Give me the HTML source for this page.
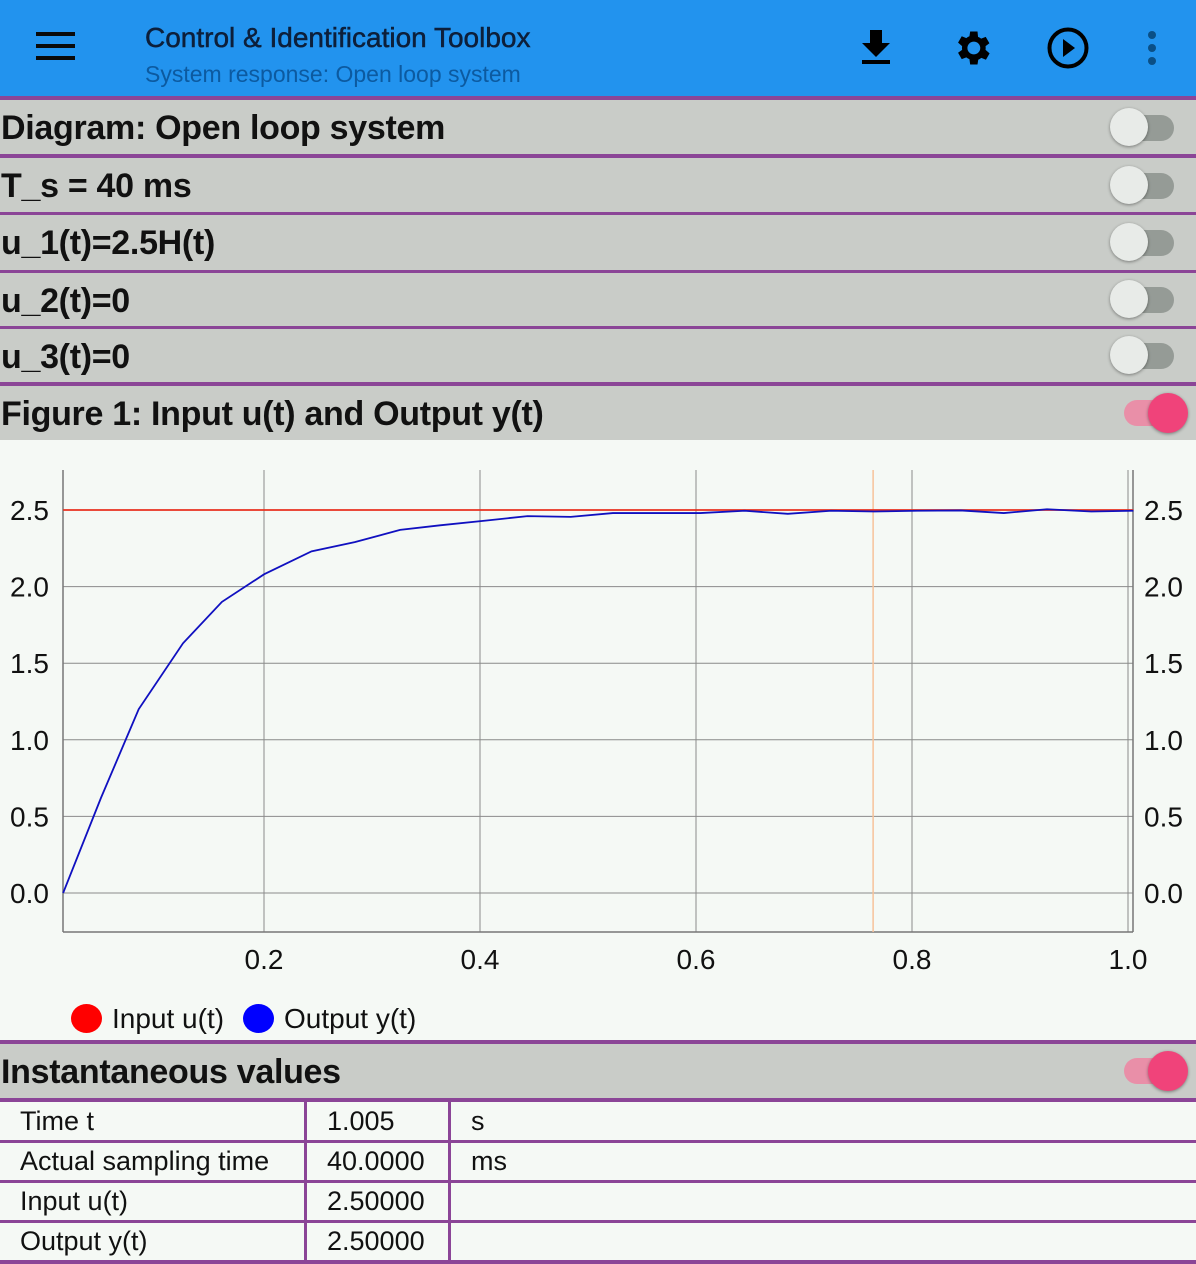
<!DOCTYPE html>
<html><head><meta charset="utf-8">
<style>
*{margin:0;padding:0;box-sizing:border-box}
body{width:1196px;height:1264px;overflow:hidden;background:#f5f9f5;font-family:"Liberation Sans",sans-serif;position:relative}
.abs{position:absolute}
.purple{position:absolute;left:0;width:1196px;background:#8b4597}
.row{position:absolute;left:0;width:1196px;background:#c9ccc8}
.rowtxt{position:absolute;left:1px;font-size:34px;font-weight:bold;color:#111;letter-spacing:-0.3px}
.sw-off{position:absolute;left:1110px;width:64px;height:30px}
.sw-off .tr{position:absolute;left:16px;top:2px;width:48px;height:26px;border-radius:13px;background:#959b96}
.sw-off .th{position:absolute;left:0;top:-5px;width:38px;height:38px;border-radius:19px;background:#e8ebe8;box-shadow:0 1px 3px rgba(0,0,0,.4)}
.sw-on{position:absolute;left:1124px;width:66px;height:30px}
.sw-on .tr{position:absolute;left:0;top:2px;width:50px;height:26px;border-radius:13px;background:#e98fa8}
.sw-on .th{position:absolute;left:24px;top:-5px;width:40px;height:40px;border-radius:20px;background:#f0437a;box-shadow:0 1px 3px rgba(0,0,0,.4)}
.cell{position:absolute;font-size:27px;color:#111}
</style></head><body>
<div class="abs" style="left:0;top:0;width:1196px;height:96px;background:#2293ee">
 <div class="abs" style="left:36px;top:32px;width:40px;height:30px">
  <div class="abs" style="left:0;top:0;width:39px;height:4px;background:#0a0a0a"></div>
  <div class="abs" style="left:0;top:12px;width:39px;height:4px;background:#0a0a0a"></div>
  <div class="abs" style="left:0;top:24px;width:39px;height:4px;background:#0a0a0a"></div>
 </div>
 <div class="abs" style="left:145px;top:22px;font-size:28px;color:#0d1f3a;-webkit-text-stroke:0.5px #0d1f3a">Control &amp; Identification Toolbox</div>
 <div class="abs" style="left:145px;top:61px;font-size:23px;color:#0c5aa0">System response: Open loop system</div>
 <svg class="abs" style="left:860px;top:28px" width="34" height="38"><path d="M10 2h12v13h8L16 29 2 15h8z" fill="#000"/><rect x="2" y="32" width="28" height="4" fill="#000"/></svg>
 <svg class="abs" style="left:950px;top:26px" width="44" height="44" viewBox="0 0 24 24"><path fill="#000" d="M19.4 13a7.5 7.5 0 000-2l2.1-1.6-2-3.5-2.5 1a7 7 0 00-1.7-1L15 3h-4l-.4 2.6a7 7 0 00-1.7 1l-2.5-1-2 3.5L6.6 11a7.5 7.5 0 000 2l-2.2 1.6 2 3.5 2.5-1a7 7 0 001.7 1L11 21h4l.4-2.6a7 7 0 001.7-1l2.5 1 2-3.5zM13 15.5a3.5 3.5 0 110-7 3.5 3.5 0 010 7z"/></svg>
 <svg class="abs" style="left:1046px;top:26px" width="44" height="44"><circle cx="22" cy="22" r="18.5" fill="none" stroke="#000" stroke-width="4"/><path d="M17 13l12 9-12 9z" fill="#000"/></svg>
 <svg class="abs" style="left:1144px;top:30px" width="16" height="36"><circle cx="8" cy="5" r="4" fill="#0a4f86"/><circle cx="8" cy="18" r="4" fill="#0a4f86"/><circle cx="8" cy="31" r="4" fill="#0a4f86"/></svg>
</div>

<div class="purple" style="top:96px;height:4px"></div>
<div class="row" style="top:100px;height:54px"><div class="rowtxt" style="top:9px">Diagram: Open loop system</div><div class="sw-off" style="top:13px"><div class="tr"></div><div class="th"></div></div></div>
<div class="purple" style="top:154px;height:4px"></div>
<div class="row" style="top:158px;height:54px"><div class="rowtxt" style="top:9px">T_s = 40 ms</div><div class="sw-off" style="top:13px"><div class="tr"></div><div class="th"></div></div></div>
<div class="purple" style="top:212px;height:3px"></div>
<div class="row" style="top:215px;height:55px"><div class="rowtxt" style="top:9px">u_1(t)=2.5H(t)</div><div class="sw-off" style="top:13px"><div class="tr"></div><div class="th"></div></div></div>
<div class="purple" style="top:270px;height:3px"></div>
<div class="row" style="top:273px;height:53px"><div class="rowtxt" style="top:9px">u_2(t)=0</div><div class="sw-off" style="top:12px"><div class="tr"></div><div class="th"></div></div></div>
<div class="purple" style="top:326px;height:3px"></div>
<div class="row" style="top:329px;height:53px"><div class="rowtxt" style="top:9px">u_3(t)=0</div><div class="sw-off" style="top:12px"><div class="tr"></div><div class="th"></div></div></div>
<div class="purple" style="top:382px;height:4px"></div>
<div class="row" style="top:386px;height:54px"><div class="rowtxt" style="top:9px">Figure 1: Input u(t) and Output y(t)</div><div class="sw-on" style="top:12px"><div class="tr"></div><div class="th"></div></div></div>

<svg class="abs" id="chart" style="left:0;top:440px" width="1196" height="600"></svg>

<div class="abs" style="left:71px;top:1003px;font-size:28px;color:#111"><span style="display:inline-block;width:31px;height:29px;border-radius:50%;background:#f00;vertical-align:-5px;margin-right:10px"></span>Input u(t)</div>
<div class="abs" style="left:243px;top:1003px;font-size:28px;color:#111"><span style="display:inline-block;width:31px;height:29px;border-radius:50%;background:#00f;vertical-align:-5px;margin-right:10px"></span>Output y(t)</div>

<div class="purple" style="top:1040px;height:4px"></div>
<div class="row" style="top:1044px;height:54px"><div class="rowtxt" style="top:9px">Instantaneous values</div><div class="sw-on" style="top:12px"><div class="tr"></div><div class="th"></div></div></div>
<div class="purple" style="top:1098px;height:4px"></div>

<div class="abs" style="left:0;top:1102px;width:1196px;height:162px">
 <div class="abs" style="left:304px;top:0;width:3px;height:160px;background:#8b4597"></div>
 <div class="abs" style="left:448px;top:0;width:3px;height:160px;background:#8b4597"></div>
 <div class="purple" style="top:38px;height:3px"></div>
 <div class="purple" style="top:78px;height:3px"></div>
 <div class="purple" style="top:118px;height:3px"></div>
 <div class="purple" style="top:158px;height:4px"></div>
 <div class="cell" style="left:20px;top:4px">Time t</div><div class="cell" style="left:327px;top:4px">1.005</div><div class="cell" style="left:471px;top:4px">s</div>
 <div class="cell" style="left:20px;top:44px">Actual sampling time</div><div class="cell" style="left:327px;top:44px">40.0000</div><div class="cell" style="left:471px;top:44px">ms</div>
 <div class="cell" style="left:20px;top:84px">Input u(t)</div><div class="cell" style="left:327px;top:84px">2.50000</div>
 <div class="cell" style="left:20px;top:124px">Output y(t)</div><div class="cell" style="left:327px;top:124px">2.50000</div>
</div>

<script>
const xTicks=[0.2,0.4,0.6,0.8,1.0];
const xTickLabels=["0.2","0.4","0.6","0.8","1.0"];
const yTicks=[0,0.5,1.0,1.5,2.0,2.5];
const yTickLabels=["0.0","0.5","1.0","1.5","2.0","2.5"];
const times=[0.014,0.049,0.084,0.125,0.161,0.2,0.244,0.284,0.326,0.363,0.404,0.444,0.484,0.523,0.564,0.604,0.645,0.685,0.725,0.765,0.805,0.845,0.885,0.925,0.966,1.005];
const inputU=[2.5,2.5,2.5,2.5,2.5,2.5,2.5,2.5,2.5,2.5,2.5,2.5,2.5,2.5,2.5,2.5,2.5,2.5,2.5,2.5,2.5,2.5,2.5,2.5,2.5,2.5];
const outputY=[0,0.62,1.2,1.63,1.9,2.08,2.23,2.29,2.37,2.40,2.43,2.46,2.455,2.48,2.48,2.48,2.495,2.475,2.495,2.49,2.495,2.497,2.48,2.505,2.49,2.495];
const cursorT=0.764;
const NS="http://www.w3.org/2000/svg";
const svgEl=document.getElementById('chart');
const X0=63,X1=1133;
const yTop=30,yBot=492;
function xs(t){return 48+t*1080;}
function ys(v){return 453-v*153.2;}
function mk(tag,attrs){const e=document.createElementNS(NS,tag);for(const k in attrs)e.setAttribute(k,attrs[k]);svgEl.appendChild(e);return e;}
yTicks.forEach((v,i)=>{
 const g=mk('line',{x1:X0,x2:X1,y1:ys(v),y2:ys(v),stroke:'#8a8a8a','stroke-width':1});
 
 
 const t=mk('text',{x:10,y:ys(v)+10,'font-size':28,fill:'#111','font-family':'Liberation Sans'});
 t.textContent=yTickLabels[i];
 
 
 const t2=mk('text',{x:1144,y:ys(v)+10,'font-size':28,fill:'#111','font-family':'Liberation Sans'});
 t2.textContent=yTickLabels[i];
 
 
});
xTicks.forEach((v,i)=>{
 const x=Math.min(xs(v),1128);
 const g=mk('line',{x1:x,x2:x,y1:yTop,y2:yBot,stroke:'#8a8a8a','stroke-width':1});
 
 
 const t=mk('text',{x:x,y:529,'font-size':28,fill:'#111','text-anchor':'middle','font-family':'Liberation Sans'});
 t.textContent=xTickLabels[i];
 
 
});
const ax=mk('line',{x1:X0,x2:X0,y1:yTop,y2:yBot,stroke:'#777','stroke-width':1.5});


const axr=mk('line',{x1:X1,x2:X1,y1:yTop,y2:yBot,stroke:'#777','stroke-width':1.5});


const axb=mk('line',{x1:X0,x2:X1,y1:yBot,y2:yBot,stroke:'#777','stroke-width':1.5});


const cur=mk('line',{x1:xs(cursorT),x2:xs(cursorT),y1:yTop,y2:yBot,stroke:'#f7c29a','stroke-width':1.5});


const pu=mk('polyline',{points:times.map((t,i)=>xs(t)+','+ys(inputU[i])).join(' '),fill:'none',stroke:'#e8311f','stroke-width':1.8});


const py=mk('polyline',{points:times.map((t,i)=>xs(t)+','+ys(outputY[i])).join(' '),fill:'none',stroke:'#1010c0','stroke-width':1.8});


</script>
</body></html>
